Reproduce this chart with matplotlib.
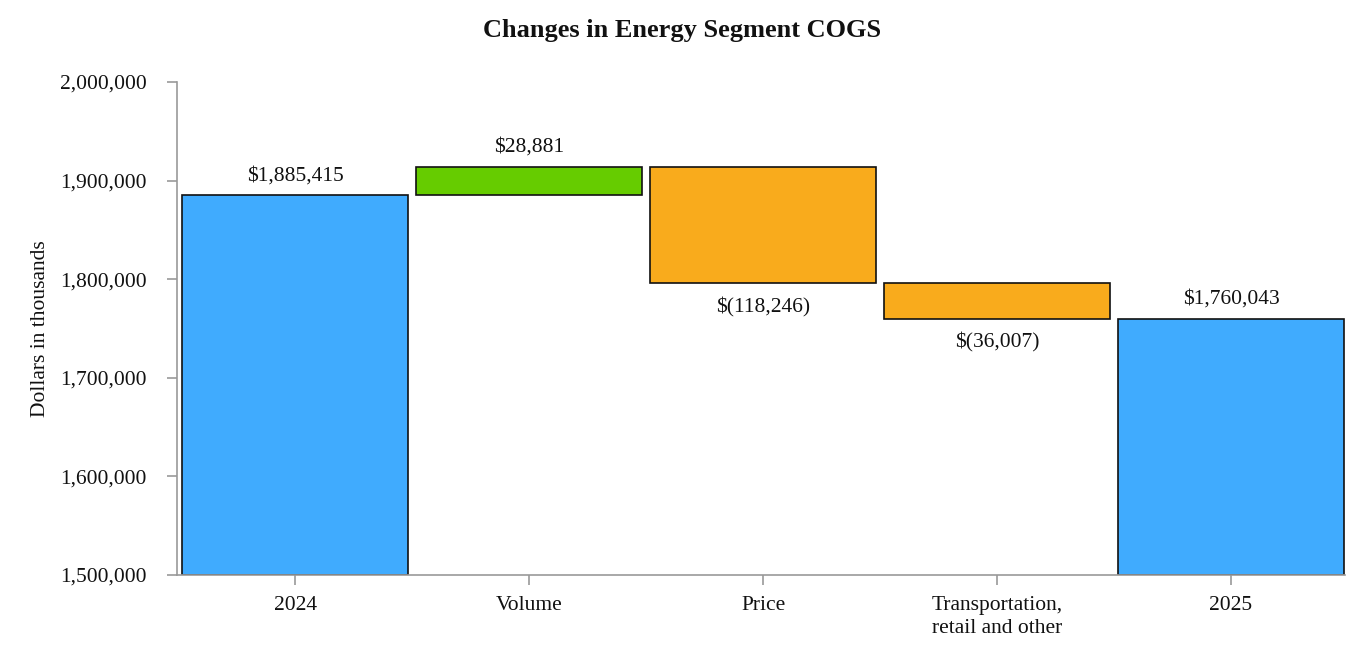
import matplotlib
matplotlib.use("Agg")
import matplotlib.pyplot as plt
from matplotlib.ticker import FuncFormatter

categories = ["2024", "Volume", "Price", "Transportation,\nretail and other", "2025"]
values = [1885415, 28881, -118246, -36007, 1760043]
kinds = ["total", "delta", "delta", "delta", "total"]
labels = ["$1,885,415", "$28,881", "$(118,246)", "$(36,007)", "$1,760,043"]

plt.rcParams['font.family'] = ['Liberation Serif', 'DejaVu Serif']

BLUE = "#40ABFE"
GREEN = "#66CC00"
ORANGE = "#F9AB1C"
YMIN = 1500000
FS = 15.5

fig = plt.figure(figsize=(13.68, 6.6), dpi=100)
ax = fig.add_axes([177/1368, 1-575/660, (1345-177)/1368, (575-82)/660])

running = 0
for i, (v, k, lab) in enumerate(zip(values, kinds, labels)):
    if k == "total":
        running = v
        ax.bar(i, v - YMIN, bottom=YMIN, width=0.966, color=BLUE, edgecolor="#111111", linewidth=1.2, zorder=2)
        ax.annotate(lab, (i, v), xytext=(0, 7), textcoords="offset points", ha="center", va="bottom", fontsize=FS, color="#111111")
    else:
        start = running
        end = running + v
        lo, hi = min(start, end), max(start, end)
        color = GREEN if v > 0 else ORANGE
        ax.bar(i, hi - lo, bottom=lo, width=0.966, color=color, edgecolor="#111111", linewidth=1.2, zorder=2)
        if v > 0:
            ax.annotate(lab, (i, hi), xytext=(0, 7), textcoords="offset points", ha="center", va="bottom", fontsize=FS, color="#111111")
        else:
            ax.annotate(lab, (i, lo), xytext=(0, -10), textcoords="offset points", ha="center", va="top", fontsize=FS, color="#111111")
        running = end

ax.set_xlim(-0.505, 4.487)
ax.set_ylim(YMIN, 2000000)
ax.set_yticks([1500000, 1600000, 1700000, 1800000, 1900000, 2000000])
ax.yaxis.set_major_formatter(FuncFormatter(lambda x, p: f"{int(x):,}"))
ax.set_xticks(range(len(categories)))
ax.set_xticklabels(categories)
for t in ax.get_xticklabels():
    t.set_multialignment("center")
    t.set_linespacing(1.3)

for s in ["top", "right"]:
    ax.spines[s].set_visible(False)
for s in ["left", "bottom"]:
    ax.spines[s].set_color("#999999")
    ax.spines[s].set_linewidth(1.2)
ax.tick_params(axis="both", colors="#999999", length=7, width=1.2, labelsize=FS, labelcolor="#111111")
ax.tick_params(axis="x", pad=8)
ax.tick_params(axis="y", pad=15)

ax.set_ylabel("Dollars in thousands", fontsize=FS, color="#111111", labelpad=7)
fig.text((481+884)/2/1368, 1-30/660, "Changes in Energy Segment COGS", ha="center", va="center", fontsize=19, fontweight="bold", color="#111111")

fig.savefig("out.png", dpi=100)
